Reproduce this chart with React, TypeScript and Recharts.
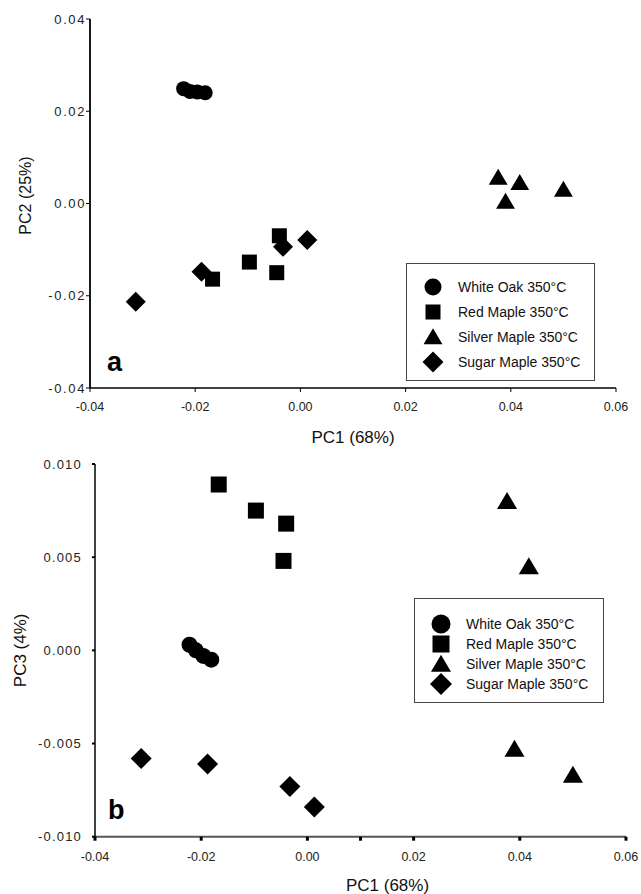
import React from "react";
import { ScatterChart, Scatter, XAxis, YAxis, Legend } from "recharts";

const FONT = '"Liberation Sans", Arial, Helvetica, sans-serif';

// axis ticks
const PC1_TICKS = [-0.04, -0.02, 0, 0.02, 0.04, 0.06];
const PC1_TICKS_B = [-0.04, -0.02, 0, 0.01, 0.02, 0.04, 0.06];
const PC2_TICKS = [-0.04, -0.02, 0, 0.02, 0.04];
const PC3_TICKS = [-0.01, -0.005, 0, 0.005, 0.01];

// scores
const whiteOakPC1 = [-0.0222, -0.021, -0.0196, -0.0181];
const whiteOakPC2 = [0.0249, 0.0243, 0.0242, 0.024];
const whiteOakPC3 = [0.0003, 0.0, -0.0003, -0.0005];

const redMaplePC1 = [-0.0167, -0.0097, -0.004, -0.0045];
const redMaplePC2 = [-0.0164, -0.0127, -0.007, -0.015];
const redMaplePC3 = [0.0089, 0.0075, 0.0068, 0.0048];

const silverMaplePC1 = [0.0376, 0.0417, 0.039, 0.05];
const silverMaplePC2 = [0.0056, 0.0045, 0.0004, 0.003];
const silverMaplePC3 = [0.008, 0.0045, -0.0053, -0.0067];

const sugarMaplePC1 = [-0.0313, -0.0188, -0.0033, 0.0013];
const sugarMaplePC2 = [-0.0213, -0.0148, -0.0094, -0.0079];
const sugarMaplePC3 = [-0.0058, -0.0061, -0.0073, -0.0084];

type Kind = "circle" | "square" | "triangle" | "diamond";

const SERIES: { name: string; kind: Kind; pc1: number[]; pc2: number[]; pc3: number[] }[] = [
  { name: "White Oak 350°C", kind: "circle", pc1: whiteOakPC1, pc2: whiteOakPC2, pc3: whiteOakPC3 },
  { name: "Red Maple 350°C", kind: "square", pc1: redMaplePC1, pc2: redMaplePC2, pc3: redMaplePC3 },
  { name: "Silver Maple 350°C", kind: "triangle", pc1: silverMaplePC1, pc2: silverMaplePC2, pc3: silverMaplePC3 },
  { name: "Sugar Maple 350°C", kind: "diamond", pc1: sugarMaplePC1, pc2: sugarMaplePC2, pc3: sugarMaplePC3 },
];

const toPoints = (xs: number[], ys: number[]) => xs.map((x, i) => ({ x, y: ys[i] }));

type Sizes = Record<Kind, number>;

function Marker({ kind, cx, cy, size }: { kind: Kind; cx: number; cy: number; size: number }) {
  if (cx == null || cy == null) return null;
  const h = size / 2;
  if (kind === "circle") return <circle cx={cx} cy={cy} r={h} fill="#000" />;
  if (kind === "square") return <rect x={cx - h} y={cy - h} width={size} height={size} fill="#000" />;
  if (kind === "triangle") {
    const w = size * 1.18;
    const pts = `${cx},${cy - size * 0.55} ${cx + w / 2},${cy + size * 0.45} ${cx - w / 2},${cy + size * 0.45}`;
    return <polygon points={pts} fill="#000" />;
  }
  const pts = `${cx},${cy - h} ${cx + h},${cy} ${cx},${cy + h} ${cx - h},${cy}`;
  return <polygon points={pts} fill="#000" />;
}

const shapeFor = (kind: Kind, size: number) => (props: any) =>
  <Marker kind={kind} cx={props.cx} cy={props.cy} size={size} />;

const makeLegend = (first: number, gap: number, sizes: Sizes, w: number, h: number) => () => (
  <div
    style={{
      width: w, height: h, boxSizing: "border-box", border: "1px solid #444",
      background: "#fff", position: "relative", fontFamily: FONT, fontSize: 14, color: "#111",
    }}
  >
    {SERIES.map((s, i) => (
      <div
        key={s.name}
        style={{ position: "absolute", left: 0, top: first + i * gap - 12, height: 24, display: "flex", alignItems: "center" }}
      >
        <svg width={51} height={24} style={{ overflow: "visible" }}>
          <Marker kind={s.kind} cx={26} cy={12} size={sizes[s.kind]} />
        </svg>
        <span style={{ whiteSpace: "nowrap" }}>{s.name}</span>
      </div>
    ))}
  </div>
);

function VLabel({ viewBox, value, offset, dy, size }: any) {
  const x = viewBox.x + offset;
  const y = viewBox.y + viewBox.height / 2 + dy;
  return (
    <text x={x} y={y} transform={`rotate(-90 ${x} ${y})`} textAnchor="middle" dominantBaseline="central"
      fontSize={size} fill="#111" fontFamily={FONT}>
      {value}
    </text>
  );
}

function HLabel({ viewBox, value, baseline, dx, size }: any) {
  const x = viewBox.x + viewBox.width / 2 + dx;
  return (
    <text x={x} y={viewBox.y + baseline} textAnchor="middle" fontSize={size} fill="#111" fontFamily={FONT}>
      {value}
    </text>
  );
}

const xTick = (fmt: (v: number) => string) => (props: any) => (
  <text x={props.x} y={props.y} dy="0.71em" textAnchor="middle" fontSize={12.5} fill="#222" fontFamily={FONT}>
    {fmt(props.payload.value)}
  </text>
);

const yTick = (fmt: (v: number) => string, spacing: number) => (props: any) => (
  <text x={props.x} y={props.y} dy="0.36em" textAnchor="end" fontSize={13} fill="#222" fontFamily={FONT}
    letterSpacing={spacing}>
    {fmt(props.payload.value)}
  </text>
);

const f2 = (v: number) => v.toFixed(2);
const f3 = (v: number) => v.toFixed(3);

function PanelA() {
  const sizes: Sizes = { circle: 15, square: 15, triangle: 16, diamond: 20 };
  const legendSizes: Sizes = { circle: 17, square: 15, triangle: 16, diamond: 21 };
  return (
    <ScatterChart width={641} height={450} margin={{ top: 19, right: 25, bottom: 0, left: 0 }} style={{ fontFamily: FONT }}>
      <XAxis
        xAxisId="x" dataKey="x" type="number" domain={[-0.04, 0.06]} ticks={PC1_TICKS} allowDataOverflow
        height={62} tickSize={4} tickMargin={10} tick={xTick(f2)}
        axisLine={{ stroke: "#000", strokeWidth: 1.5 }} tickLine={{ stroke: "#000" }}
        label={{ content: (p: any) => <HLabel viewBox={p.viewBox} value="PC1 (68%)" baseline={55} dx={0} size={17} /> }}
      />
      <XAxis xAxisId="xt" orientation="top" type="number" domain={[-0.04, 0.06]} height={0} tick={false}
        tickLine={false} axisLine={{ stroke: "#111", strokeWidth: 1 }} />
      <YAxis
        yAxisId="y" dataKey="y" type="number" domain={[-0.04, 0.04]} ticks={PC2_TICKS} allowDataOverflow
        width={90} tickSize={4} tickMargin={0} tick={yTick(f2, 1.6)}
        axisLine={{ stroke: "#000", strokeWidth: 1.8 }} tickLine={{ stroke: "#000" }}
        label={{ content: (p: any) => <VLabel viewBox={p.viewBox} value="PC2 (25%)" offset={25} dy={-8} size={16} /> }}
      />
      <YAxis yAxisId="yr" orientation="right" type="number" domain={[-0.04, 0.04]} width={0} tick={false}
        tickLine={false} axisLine={{ stroke: "#777", strokeWidth: 1 }} />
      {SERIES.map((s) => (
        <Scatter key={s.name} name={s.name} xAxisId="x" yAxisId="y" data={toPoints(s.pc1, s.pc2)}
          shape={shapeFor(s.kind, sizes[s.kind])} isAnimationActive={false} />
      ))}
      <Legend layout="vertical" align="center" verticalAlign="middle"
        wrapperStyle={{ left: 406, top: 263, width: 189, height: 118 }}
        content={makeLegend(23, 25, legendSizes, 189, 118)} />
    </ScatterChart>
  );
}

function PanelB() {
  const sizes: Sizes = { circle: 16, square: 16, triangle: 17, diamond: 21 };
  const legendSizes: Sizes = { circle: 19, square: 17, triangle: 17, diamond: 22 };
  return (
    <ScatterChart width={641} height={460} margin={{ top: 14, right: 15, bottom: 0, left: 0 }} style={{ fontFamily: FONT }}>
      <XAxis
        xAxisId="x" dataKey="x" type="number" domain={[-0.04, 0.06]} ticks={PC1_TICKS_B} allowDataOverflow
        height={73.3} tickSize={4} tickMargin={11} tick={xTick((v) => (v === 0.01 ? "" : f2(v)))}
        axisLine={{ stroke: "#555", strokeWidth: 2 }} tickLine={{ stroke: "#000", strokeWidth: 3 }}
        label={{ content: (p: any) => <HLabel viewBox={p.viewBox} value="PC1 (68%)" baseline={54} dx={27} size={17} /> }}
      />
      <XAxis xAxisId="xt" orientation="top" type="number" domain={[-0.04, 0.06]} ticks={[0.01, 0.06]} height={0}
        tick={false} tickSize={3} tickLine={{ stroke: "#000", strokeWidth: 3 }} axisLine={{ stroke: "#222", strokeWidth: 1.2 }} />
      <YAxis
        yAxisId="y" dataKey="y" type="number" domain={[-0.01, 0.01]} ticks={PC3_TICKS} allowDataOverflow
        width={95} tickSize={3} tickMargin={10} tick={yTick(f3, 1.2)}
        axisLine={{ stroke: "#000", strokeWidth: 1.5 }} tickLine={{ stroke: "#000", strokeWidth: 2 }}
        label={{ content: (p: any) => <VLabel viewBox={p.viewBox} value="PC3 (4%)" offset={21} dy={0} size={17} /> }}
      />
      <YAxis yAxisId="yr" orientation="right" type="number" domain={[-0.01, 0.01]} ticks={[0.01, 0]} width={0}
        tick={false} tickSize={3} tickLine={{ stroke: "#000", strokeWidth: 3 }} axisLine={{ stroke: "#444", strokeWidth: 2 }} />
      {SERIES.map((s) => (
        <Scatter key={s.name} name={s.name} xAxisId="x" yAxisId="y" data={toPoints(s.pc1, s.pc3)}
          shape={shapeFor(s.kind, sizes[s.kind])} isAnimationActive={false} />
      ))}
      <Legend layout="vertical" align="center" verticalAlign="middle"
        wrapperStyle={{ left: 414, top: 148, width: 190, height: 105 }}
        content={makeLegend(25, 20, legendSizes, 190, 105)} />
    </ScatterChart>
  );
}

export default function App() {
  const panelLetter = { position: "absolute" as const, fontSize: 27, lineHeight: "27px", fontWeight: "bold" as const, fontFamily: FONT, color: "#000" };
  return (
    <div style={{ position: "absolute", left: 0, top: 0, width: 641, height: 894, overflow: "hidden", background: "#fff" }}>
      <div style={{ position: "absolute", left: 0, top: 0 }}>
        <PanelA />
      </div>
      <div style={{ position: "absolute", left: 0, top: 450 }}>
        <PanelB />
      </div>
      <div style={{ ...panelLetter, left: 107, top: 349 }}>a</div>
      <div style={{ ...panelLetter, left: 108, top: 797 }}>b</div>
    </div>
  );
}
